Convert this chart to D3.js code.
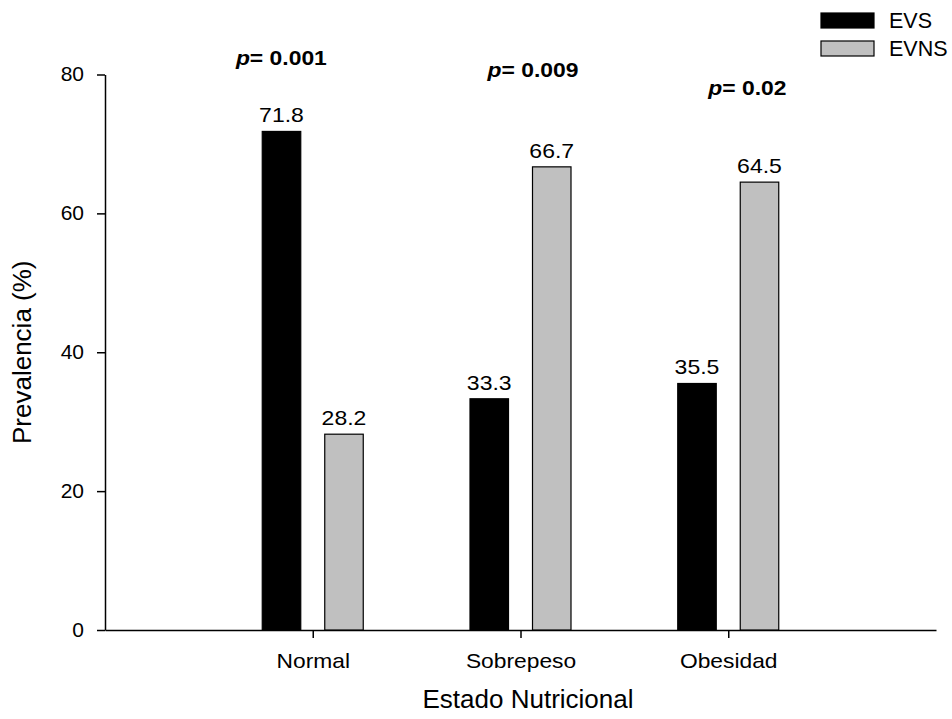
<!DOCTYPE html>
<html>
<head>
<meta charset="utf-8">
<script src="https://cdn.jsdelivr.net/npm/d3@7"></script>
<style>
  body { margin: 0; background: #fff; }
  svg { font-family: "Liberation Sans", Arial, sans-serif; }
</style>
</head>
<body>
<svg id="svg" width="952" height="719"></svg>
<script>
// data
const categories = ['Normal', 'Sobrepeso', 'Obesidad'];
const seriesNames = ['EVS', 'EVNS'];
const evs = [71.8, 33.3, 35.5];
const evns = [28.2, 66.7, 64.5];
const pValues = ['0.001', '0.009', '0.02'];
const yTicks = [0, 20, 40, 60, 80];

const colors = { EVS: '#000000', EVNS: '#c0c0c0' };

// where the p labels start (category units / value units)
const pAnchor = [
  { dx: -0.37, y: 81.4 },
  { dx: -0.159, y: 79.6 },
  { dx: -0.096, y: 77.0 }
];

const svg = d3.select('#svg');

const x = d3.scaleLinear().domain([-1, 3]).range([105, 936]);
const y = d3.scaleLinear().domain([0, 80]).range([630, 74.5]);

// two bars per category, px offsets round the category centre
const sub = d3.scaleBand().domain(seriesNames).range([-50.5, 50.5]).paddingInner(0.384);

const rows = categories.map((c, i) => ({ cat: c, i: i, EVS: evs[i], EVNS: evns[i] }));

// the labels in the picture are a bit wider than plain Arial
function stretch(sel, s) {
  sel.attr('transform', function () {
    const xv = +this.getAttribute('x') || 0;
    const yv = +this.getAttribute('y') || 0;
    this.setAttribute('x', 0);
    this.setAttribute('y', 0);
    return `translate(${xv},${yv}) scale(${s},1)`;
  });
}

// y axis
svg.append('g')
  .attr('transform', `translate(${x.range()[0]},0)`)
  .call(d3.axisLeft(y).tickValues(yTicks).tickSize(8).tickPadding(13).tickSizeOuter(0))
  .call(g => g.selectAll('text').attr('font-size', 20).attr('fill', '#000').attr('font-family', null).call(stretch, 1.05))
  .call(g => g.selectAll('line,path').attr('stroke', '#000').attr('stroke-width', 1.5));

// x axis
svg.append('g')
  .attr('transform', `translate(0,${y(0)})`)
  .call(d3.axisBottom(x).tickValues([0, 1, 2]).tickFormat(i => categories[i])
    .tickSize(8).tickPadding(16).tickSizeOuter(0))
  .call(g => g.selectAll('text').attr('font-size', 20).attr('fill', '#000').attr('font-family', null).call(stretch, 1.14))
  .call(g => g.selectAll('line,path').attr('stroke', '#000').attr('stroke-width', 1.5));

// bars
const groups = svg.append('g').selectAll('g')
  .data(rows)
  .enter()
  .append('g')
  .attr('transform', d => `translate(${x(d.i)},0)`);

groups.selectAll('rect')
  .data(d => seriesNames.map(s => ({ s: s, v: d[s] })))
  .enter()
  .append('rect')
  .attr('x', d => sub(d.s))
  .attr('y', d => y(d.v))
  .attr('width', sub.bandwidth())
  .attr('height', d => y(0) - y(d.v))
  .attr('fill', d => colors[d.s])
  .attr('stroke', '#000')
  .attr('stroke-width', 1.2);

groups.selectAll('text')
  .data(d => seriesNames.map(s => ({ s: s, v: d[s] })))
  .enter()
  .append('text')
  .attr('x', d => sub(d.s) + sub.bandwidth() / 2)
  .attr('y', d => y(d.v) - 9)
  .attr('text-anchor', 'middle')
  .attr('font-size', 20)
  .text(d => d.v.toFixed(1))
  .call(stretch, 1.15);

// p values
const pText = svg.append('g').selectAll('text')
  .data(pValues)
  .enter()
  .append('text')
  .attr('x', (d, i) => x(i + pAnchor[i].dx))
  .attr('y', (d, i) => y(pAnchor[i].y))
  .attr('font-size', 21)
  .attr('font-weight', 'bold');
pText.append('tspan').attr('font-style', 'italic').text('p');
pText.append('tspan').text(d => '= ' + d);
pText.call(stretch, 1.09);

// axis titles
svg.append('text')
  .attr('transform', `translate(31,${(y(0) + y(80)) / 2}) rotate(-90)`)
  .attr('text-anchor', 'middle')
  .attr('font-size', 26)
  .text('Prevalencia (%)');

svg.append('text')
  .attr('x', 528)
  .attr('y', 708)
  .attr('text-anchor', 'middle')
  .attr('font-size', 26)
  .text('Estado Nutricional');

// legend
const legend = svg.append('g').attr('transform', 'translate(821,13)');
const item = legend.selectAll('g')
  .data(seriesNames)
  .enter()
  .append('g')
  .attr('transform', (d, i) => `translate(0,${i * 28})`);
item.append('rect')
  .attr('width', 53)
  .attr('height', 15)
  .attr('fill', d => colors[d])
  .attr('stroke', '#000')
  .attr('stroke-width', 1.2);
item.append('text')
  .attr('x', 68)
  .attr('y', 15)
  .attr('font-size', 21.5)
  .text(d => d);
</script>
</body>
</html>
